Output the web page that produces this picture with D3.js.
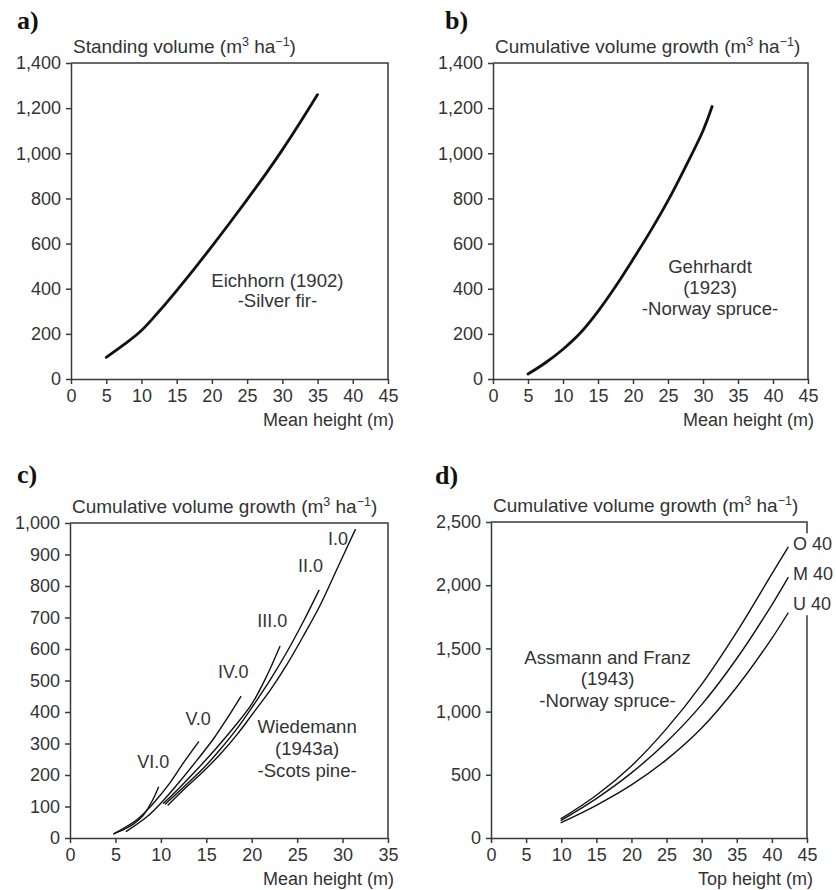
<!DOCTYPE html>
<html>
<head>
<meta charset="utf-8">
<script src="https://cdn.jsdelivr.net/npm/d3@7"></script>
<style>
  body { margin: 0; background: #fff; }
  svg { display: block; }
  text { font-family: "Liberation Sans", Arial, sans-serif; fill: #333; }
  .letter { font-family: "Liberation Serif", "Times New Roman", serif; font-weight: bold; fill: #111; }
</style>
</head>
<body>
<div id="chart"></div>
<script>
// a) Eichhorn (1902), silver fir
const aHeight = [5, 7.5, 10, 12.5, 15, 17.5, 20, 22.5, 25, 27.5, 30, 32.5, 35];
const aVolume = [96, 152, 215, 300, 392, 488, 588, 690, 795, 902, 1015, 1135, 1260];

// b) Gehrhardt (1923), Norway spruce
const bHeight = [5, 7.5, 10, 12.5, 15, 17.5, 20, 22.5, 25, 27.5, 30, 31.3];
const bVolume = [22, 72, 132, 205, 300, 410, 530, 655, 790, 940, 1100, 1207];

// c) Wiedemann (1943a), Scots pine, site classes
const cClasses = ['I.0', 'II.0', 'III.0', 'IV.0', 'V.0', 'VI.0'];
const cHeight = [
  [10.8, 12.9, 14.7, 16.5, 18.4, 20.2, 22.1, 23.9, 25.7, 27.6, 29.4, 31.4],
  [10.5, 12.9, 14.7, 16.5, 18.4, 20.2, 22.1, 23.9, 25.7, 27.4],
  [10.3, 12, 14, 16, 18, 20, 21.5, 23.1],
  [6.2, 8.5, 10.3, 12.1, 14, 15.8, 17.3, 18.8],
  [4.9, 7.35, 9.2, 11, 12.5, 14.15],
  [4.8, 6, 7, 8, 9, 9.74]
];
const cVolume = [
  [105, 164, 212, 265, 329, 398, 472, 552, 642, 743, 855, 979],
  [108, 172, 222, 280, 348, 422, 505, 592, 688, 786],
  [110, 158, 218, 282, 350, 425, 505, 608],
  [21, 68, 120, 180, 248, 315, 380, 449],
  [15, 58, 111, 175, 239, 305],
  [13, 28, 45, 70, 115, 161]
];
const cLabelX = [28.4, 25.1, 20.6, 16.3, 12.7, 7.4];
const cLabelY = [931, 846, 670, 508, 358, 222];

// d) Assmann and Franz (1943), Norway spruce
const dClasses = ['O 40', 'M 40', 'U 40'];
const dHeight = [10, 15, 20, 25, 30, 35, 40, 42.3];
const dVolume = [
  [153, 338, 570, 865, 1215, 1630, 2090, 2300],
  [140, 312, 515, 760, 1055, 1420, 1845, 2060],
  [122, 259, 420, 620, 870, 1195, 1580, 1780]
];
const dLabelX = 43.0;
const dLabelY = [2276, 2039, 1802];

const xTicks45 = d3.range(0, 46, 5);
const xTicks35 = d3.range(0, 36, 5);

const width = 836, height = 890;
const svg = d3.select('#chart').append('svg')
  .attr('width', width).attr('height', height);

const fmt = d3.format(',');

function zip(xs, ys) { return xs.map((x, i) => ({x, y: ys[i]})); }

function drawPanel(p) {
  const g = svg.append('g');
  const x = d3.scaleLinear().domain(p.xDomain).range([p.left, p.right]);
  const y = d3.scaleLinear().domain(p.yDomain).range([p.bottom, p.top]);

  g.append('text').attr('class', 'letter').attr('x', p.letterX).attr('y', p.letterY)
    .attr('font-size', 26).text(p.letter);

  // y title with superscripts
  const t = g.append('text').attr('x', p.left + 2).attr('y', p.top - 10).attr('font-size', 19);
  t.append('tspan').text(p.yTitle + ' (m');
  t.append('tspan').attr('dy', -7).attr('font-size', 12.5).text('3');
  t.append('tspan').attr('dy', 7).text(' ha');
  t.append('tspan').attr('dy', -7).attr('font-size', 12.5).text('\u22121');
  t.append('tspan').attr('dy', 7).text(')');

  // frame top + right
  g.append('path')
    .attr('d', `M${p.left},${p.top}H${p.right}V${p.bottom}`)
    .attr('fill', 'none').attr('stroke', '#3a3a3a').attr('stroke-width', 1.5);

  const xAxis = g.append('g').attr('transform', `translate(0,${p.bottom})`)
    .call(d3.axisBottom(x).tickValues(p.xTicks).tickSize(5).tickPadding(5).tickSizeOuter(0));
  const yAxis = g.append('g').attr('transform', `translate(${p.left},0)`)
    .call(d3.axisLeft(y).tickValues(p.yTicks).tickFormat(fmt).tickSize(5).tickPadding(5).tickSizeOuter(0));
  [xAxis, yAxis].forEach(a => {
    a.select('.domain').attr('stroke', '#3a3a3a').attr('stroke-width', 1.5);
    a.selectAll('.tick line').attr('stroke', '#3a3a3a').attr('stroke-width', 1.5);
    a.selectAll('.tick text').attr('font-size', 18).attr('fill', '#333')
      .style('font-family', '"Liberation Sans", Arial, sans-serif');
  });

  g.append('text').attr('x', p.right + 6).attr('y', p.bottom + 47)
    .attr('text-anchor', 'end').attr('font-size', 18).text(p.xTitle);

  const line = d3.line().x(d => x(d.x)).y(d => y(d.y)).curve(d3.curveCatmullRom.alpha(0.5));
  p.series.forEach(s => {
    g.append('path').datum(s).attr('d', line)
      .attr('fill', 'none').attr('stroke', '#111')
      .attr('stroke-width', p.lineWidth).attr('stroke-linecap', 'round');
  });

  // annotation
  const ann = g.append('text').attr('text-anchor', 'middle').attr('font-size', 18.6);
  p.note.forEach((s, i) => {
    ann.append('tspan').attr('x', x(p.noteX)).attr('y', y(p.noteY) + i * p.noteGap).text(s);
  });

  if (p.labels) {
    const lg = g.append('g');
    const texts = p.labels.map(l => lg.append('text').attr('x', x(l.x)).attr('y', y(l.y))
      .attr('font-size', 18).text(l.text));
    if (p.labelBg) {
      const boxes = texts.map(tx => tx.node().getBBox());
      const x0 = d3.min(boxes, b => b.x) - 2, x1 = d3.max(boxes, b => b.x + b.width) + 2;
      const y0 = d3.min(boxes, b => b.y) - 1, y1 = d3.max(boxes, b => b.y + b.height) + 1;
      lg.insert('rect', 'text').attr('x', x0).attr('y', y0)
        .attr('width', x1 - x0).attr('height', y1 - y0).attr('fill', '#fff');
    }
  }
}

drawPanel({
  letter: 'a)', letterX: 17, letterY: 29,
  left: 71, right: 388, top: 63, bottom: 379,
  xDomain: [0, 45], yDomain: [0, 1400], xTicks: xTicks45, yTicks: d3.range(0, 1401, 200),
  yTitle: 'Standing volume', xTitle: 'Mean height (m)',
  series: [zip(aHeight, aVolume)], lineWidth: 2.8,
  note: ['Eichhorn (1902)', '-Silver fir-'], noteX: 29.3, noteY: 408, noteGap: 20
});

drawPanel({
  letter: 'b)', letterX: 445, letterY: 29,
  left: 493, right: 808, top: 63, bottom: 379,
  xDomain: [0, 45], yDomain: [0, 1400], xTicks: xTicks45, yTicks: d3.range(0, 1401, 200),
  yTitle: 'Cumulative volume growth', xTitle: 'Mean height (m)',
  series: [zip(bHeight, bVolume)], lineWidth: 2.8,
  note: ['Gehrhardt', '(1923)', '-Norway spruce-'], noteX: 31.0, noteY: 471, noteGap: 21
});

drawPanel({
  letter: 'c)', letterX: 17, letterY: 483,
  left: 70, right: 388, top: 523, bottom: 838,
  xDomain: [0, 35], yDomain: [0, 1000], xTicks: xTicks35, yTicks: d3.range(0, 1001, 100),
  yTitle: 'Cumulative volume growth', xTitle: 'Mean height (m)',
  series: cHeight.map((h, i) => zip(h, cVolume[i])), lineWidth: 1.4,
  note: ['Wiedemann', '(1943a)', '-Scots pine-'], noteX: 26.1, noteY: 332, noteGap: 21.7,
  labels: cClasses.map((c, i) => ({text: c, x: cLabelX[i], y: cLabelY[i]}))
});

drawPanel({
  letter: 'd)', letterX: 435, letterY: 484,
  left: 491, right: 807, top: 522, bottom: 838,
  xDomain: [0, 45], yDomain: [0, 2500], xTicks: xTicks45, yTicks: d3.range(0, 2501, 500),
  yTitle: 'Cumulative volume growth', xTitle: 'Top height (m)',
  series: dVolume.map(v => zip(dHeight, v)), lineWidth: 1.4,
  note: ['Assmann and Franz', '(1943)', '-Norway spruce-'], noteX: 16.6, noteY: 1380, noteGap: 21.7,
  labels: dClasses.map((c, i) => ({text: c, x: dLabelX, y: dLabelY[i]})), labelBg: true
});
</script>
</body>
</html>
